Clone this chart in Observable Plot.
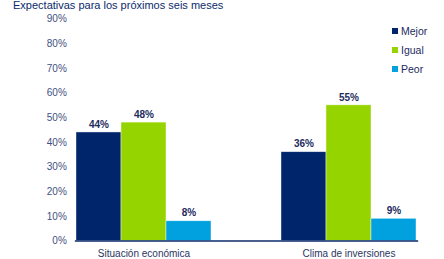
<!DOCTYPE html>
<html>
<head>
<meta charset="utf-8">
<script src="https://cdn.jsdelivr.net/npm/d3@7"></script>
<script src="https://cdn.jsdelivr.net/npm/@observablehq/plot@0.6"></script>
<style>
  html, body { margin: 0; padding: 0; background: #fff; }
  #wrap { position: relative; width: 444px; height: 259px; overflow: hidden; font-family: "Liberation Sans", Arial, sans-serif; }
  #title { position: absolute; left: 13px; top: -1px; font-size: 11px; line-height: 12px; color: #0b2a6b; white-space: nowrap; }
  #legend { position: absolute; left: 392px; top: 21px; font-size: 10.5px; color: #1d2b5e; }
  #legend .item { display: flex; align-items: center; height: 19px; }
  #legend .sw { width: 6px; height: 6px; margin-right: 3px; }
  #chart { position: absolute; left: 0; top: 0; }
</style>
</head>
<body>
<div id="wrap">
  <div id="chart"></div>
  <div id="title">Expectativas para los próximos seis meses</div>
  <div id="legend"></div>
</div>
<script>
const categories = ["Situación económica", "Clima de inversiones"];
const series = ["Mejor", "Igual", "Peor"];
const mejor = [44, 36];
const igual = [48, 55];
const peor = [8, 9];
const yTicks = [0, 10, 20, 30, 40, 50, 60, 70, 80, 90];
const colors = ["#00256b", "#96d400", "#00a1de"];

const valuesBySeries = {Mejor: mejor, Igual: igual, Peor: peor};
const data = [];
categories.forEach((c, i) => {
  series.forEach(s => data.push({cat: c, serie: s, value: valuesBySeries[s][i]}));
});

const chart = Plot.plot({
  width: 444,
  height: 259,
  marginLeft: 41,
  marginRight: -7,
  marginTop: 18.5,
  marginBottom: 18.5,
  style: {fontFamily: "'Liberation Sans', Arial, sans-serif", background: "transparent", overflow: "hidden"},
  fx: {domain: categories, paddingInner: 0.334, paddingOuter: 0.167, label: null},
  x: {domain: series, padding: 0, axis: null},
  y: {domain: [0, 90], label: null},
  color: {domain: series, range: colors},
  marks: [
    Plot.axisY({ticks: yTicks, tickFormat: d => d + "%", tickSize: 0, tickPadding: 8.7, fontSize: 10, fill: "#3f4f82", label: null}),
    Plot.axisFx({anchor: "bottom", tickSize: 0, tickPadding: 8.5, fontSize: 10, fill: "#2a3560", label: null}),
    Plot.barY(data, {fx: "cat", x: "serie", y: "value", fill: "serie", stroke: "white", strokeWidth: 0.7, strokeOpacity: 0.6}),
    Plot.text(data, {fx: "cat", x: "serie", y: "value", text: d => d.value + "%", dy: -8, fontWeight: "bold", fontSize: 10, fill: "#1d2b5e"}),
    Plot.frame({anchor: "bottom", facet: "super", stroke: "#0b2a6b", strokeWidth: 1.3})
  ]
});
document.getElementById("chart").appendChild(chart);

const legend = d3.select("#legend");
series.forEach((s, i) => {
  const item = legend.append("div").attr("class", "item");
  item.append("div").attr("class", "sw").style("background", colors[i]);
  item.append("span").text(s);
});
</script>
</body>
</html>
